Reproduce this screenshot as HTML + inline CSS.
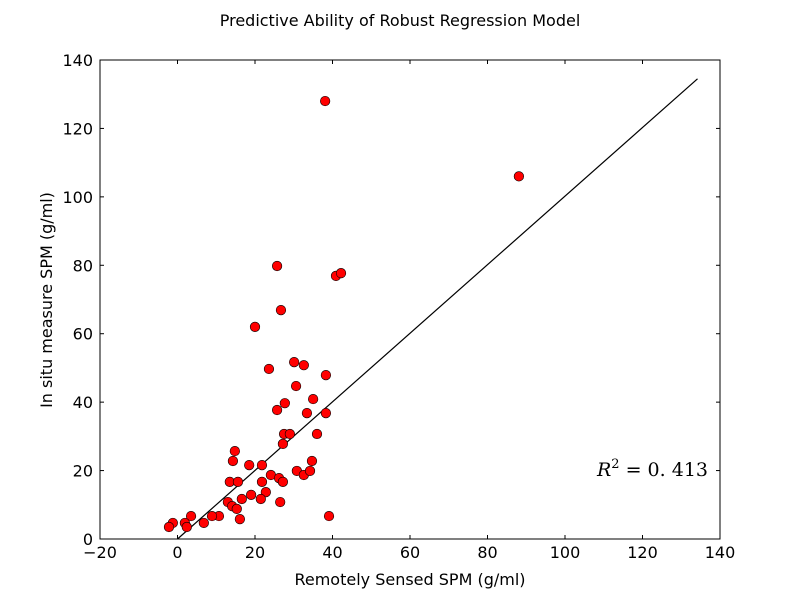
<!DOCTYPE html>
<html><head><meta charset="utf-8"><style>
body{margin:0;background:#fff;}
svg text{font-family:"DejaVu Sans","Liberation Sans",sans-serif;}
svg text.math{font-family:"DejaVu Serif","Liberation Serif",serif;}
</style></head><body>
<svg id="chart" width="800" height="600" xmlns="http://www.w3.org/2000/svg">
<rect width="800" height="600" fill="#fff"/>
<text x="400" y="26" text-anchor="middle" font-size="16">Predictive Ability of Robust Regression Model</text>
<text x="410" y="585" text-anchor="middle" font-size="16">Remotely Sensed SPM (g/ml)</text>
<text transform="translate(52,300) rotate(-90)" text-anchor="middle" font-size="16">In situ measure SPM (g/ml)</text>
<g id="ticks"></g>
<line id="fitline" stroke="#000" stroke-width="1.2"/>
<g id="points"></g>
<rect x="100" y="60" width="620" height="479" fill="none" stroke="#000" stroke-width="1"/>
<text class="math" x="708" y="476" text-anchor="end" font-size="19"><tspan font-style="italic">R</tspan><tspan font-size="13" dy="-8">2</tspan><tspan dy="8"> = 0. 413</tspan></text>
</svg>
<script>
const xs=[25.7,40.9,42.2,26.7,20.0,23.6,30.1,32.6,38.3,30.6,35.0,27.7,25.7,33.4,38.3,27.5,29.0,36.0,27.2,14.8,14.3,34.7,18.5,21.8,30.8,32.6,34.2,24.1,26.2,27.2,13.5,15.6,21.8,22.8,21.5,19.0,16.6,26.5,13.0,14.1,15.3,16.1,39.1,10.7,8.9,3.5,6.8,1.9,2.4,-1.2,-2.2,38.1,88.1];
const ys=[79.8,76.9,77.7,66.9,62,49.7,51.7,50.8,47.9,44.7,40.9,39.7,37.7,36.8,36.8,30.7,30.7,30.7,27.8,25.7,22.8,22.8,21.6,21.6,19.9,18.7,19.9,18.7,17.8,16.7,16.7,16.7,16.7,13.7,11.7,12.9,11.7,10.8,10.8,9.6,8.8,5.8,6.7,6.7,6.7,6.7,4.7,4.7,3.5,4.7,3.5,128,106];
const fitStart=[0,0], fitEnd=[134.2,134.5];
const xTicks=[-20,0,20,40,60,80,100,120,140];
const yTicks=[0,20,40,60,80,100,120,140];
const sx=v=>100+(v+20)*620/160, sy=v=>539-v*479/140;
const NS="http://www.w3.org/2000/svg";
const tg=document.getElementById('ticks');
function mk(tag,attrs,parent){const e=document.createElementNS(NS,tag);for(const k in attrs)e.setAttribute(k,attrs[k]);parent.appendChild(e);return e;}
const fmt=t=>t<0?'\u2212'+(-t):String(t);
xTicks.forEach(t=>{const x=sx(t);
 const l1=mk('line',{x1:x,x2:x,y1:539,y2:535,stroke:'#000'},tg);
 
 
 mk('line',{x1:x,x2:x,y1:60,y2:64,stroke:'#000'},tg);
 const tx=mk('text',{x:x,y:558,'text-anchor':'middle','font-size':16},tg);tx.textContent=fmt(t);
 
 });
yTicks.forEach(t=>{const y=sy(t);
 const l1=mk('line',{x1:100,x2:104,y1:y,y2:y,stroke:'#000'},tg);
 
 
 mk('line',{x1:716,x2:720,y1:y,y2:y,stroke:'#000'},tg);
 const tx=mk('text',{x:93,y:y+6,'text-anchor':'end','font-size':16},tg);tx.textContent=fmt(t);
 
 });
const fl=document.getElementById('fitline');
fl.setAttribute('x1',sx(fitStart[0]));fl.setAttribute('y1',sy(fitStart[1]));
fl.setAttribute('x2',sx(fitEnd[0]));fl.setAttribute('y2',sy(fitEnd[1]));
const pg=document.getElementById('points');
xs.forEach((v,i)=>{const c=mk('circle',{cx:sx(v),cy:sy(ys[i]),r:4.8,fill:'#f00',stroke:'#000','stroke-width':0.6},pg);
 
 });
</script>
</body></html>
